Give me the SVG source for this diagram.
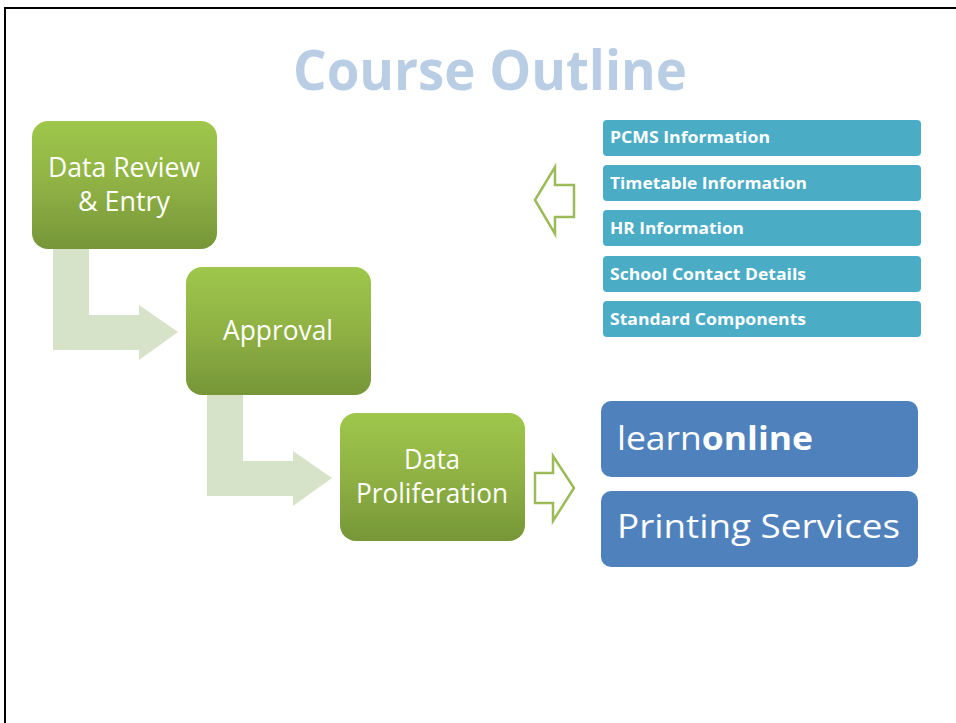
<svg xmlns="http://www.w3.org/2000/svg" width="956" height="723" viewBox="0 0 956 723">
<defs>
<linearGradient id="gg" x1="0" y1="0" x2="0" y2="1">
<stop offset="0" stop-color="#9fc74b"/>
<stop offset="0.5" stop-color="#8fb144"/>
<stop offset="1" stop-color="#769638"/>
</linearGradient>
<style>
.g{fill:url(#gg)}
.gt{font-family:"Open Sans","Noto Sans",sans-serif;font-size:26.5px;fill:#fff;text-anchor:middle}
.t{fill:#4bacc6}
.tt{font-family:"Open Sans","Noto Sans",sans-serif;font-size:15.5px;font-weight:bold;fill:#fff}
.b{fill:#4f81bd}
.bt{font-family:"Open Sans","Noto Sans",sans-serif;font-size:32px;fill:#fff}
.ba{fill:#d7e3c8}
.oa{fill:#fff;stroke:#9bbb59;stroke-width:2.5;stroke-linejoin:miter}
</style>
</defs>
<rect width="956" height="723" fill="#fff"/>
<path d="M5,723 V8 H956" fill="none" stroke="#000" stroke-width="2"/>
<text x="490" y="90" font-family="'Open Sans','Noto Sans',sans-serif" font-size="56" font-weight="bold" fill="#b9cde5" text-anchor="middle" textLength="394" lengthAdjust="spacingAndGlyphs">Course Outline</text>
<g id="connectors">
<path class="ba" d="M53,249 L89,249 L89,315 L139,315 L139,305 L178,332 L139,360 L139,350 L53,350 Z"/>
<path class="ba" d="M207,395 L243,395 L243,461 L293,461 L293,451 L332,478 L293,506 L293,496 L207,496 Z"/>
<path class="oa" d="M535,473 L553,473 L553,456 L574,488 L553,521 L553,503 L535,503 Z"/>
<path class="oa" d="M574,185 L555,185 L555,167 L535,200 L555,234 L555,217 L574,217 Z"/>
</g>
<g id="n1"><rect class="g" x="32" y="121" width="185" height="128" rx="16"/>
<text class="gt" x="124" y="177" textLength="152" lengthAdjust="spacingAndGlyphs">Data Review</text>
<text class="gt" x="124" y="211" textLength="92" lengthAdjust="spacingAndGlyphs">&amp; Entry</text></g>
<g id="n2"><rect class="g" x="186" y="267" width="185" height="128" rx="16"/>
<text class="gt" x="278" y="340" textLength="110" lengthAdjust="spacingAndGlyphs">Approval</text></g>
<g id="n3"><rect class="g" x="340" y="413" width="185" height="128" rx="16"/>
<text class="gt" x="432" y="469" textLength="56" lengthAdjust="spacingAndGlyphs">Data</text>
<text class="gt" x="432" y="503" textLength="152" lengthAdjust="spacingAndGlyphs">Proliferation</text></g>
<g id="i1"><rect class="t" x="603" y="120" width="318" height="36" rx="4"/><text class="tt" x="610" y="143" textLength="160" lengthAdjust="spacingAndGlyphs">PCMS Information</text></g>
<g id="i2"><rect class="t" x="603" y="165" width="318" height="36" rx="4"/><text class="tt" x="610" y="189" textLength="197" lengthAdjust="spacingAndGlyphs">Timetable Information</text></g>
<g id="i3"><rect class="t" x="603" y="210" width="318" height="36" rx="4"/><text class="tt" x="610" y="234" textLength="134" lengthAdjust="spacingAndGlyphs">HR Information</text></g>
<g id="i4"><rect class="t" x="603" y="256" width="318" height="36" rx="4"/><text class="tt" x="610" y="280" textLength="196" lengthAdjust="spacingAndGlyphs">School Contact Details</text></g>
<g id="i5"><rect class="t" x="603" y="301" width="318" height="36" rx="4"/><text class="tt" x="610" y="325" textLength="196" lengthAdjust="spacingAndGlyphs">Standard Components</text></g>
<g id="o1"><rect class="b" x="601" y="401" width="317" height="76" rx="10"/>
<text class="bt" x="617" y="450" textLength="196" lengthAdjust="spacingAndGlyphs">learn<tspan font-weight="bold">online</tspan></text></g>
<g id="o2"><rect class="b" x="601" y="491" width="317" height="76" rx="10"/>
<text class="bt" x="617" y="538" textLength="283" lengthAdjust="spacingAndGlyphs">Printing Services</text></g>
</svg>
